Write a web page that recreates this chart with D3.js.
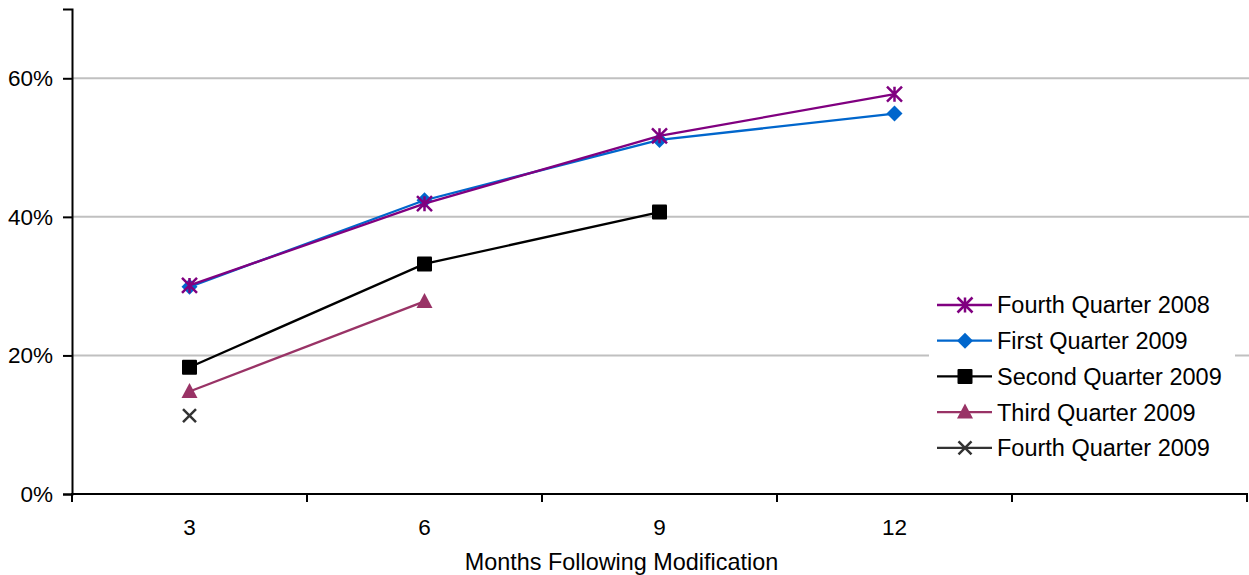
<!DOCTYPE html>
<html>
<head>
<meta charset="utf-8">
<script src="https://cdn.jsdelivr.net/npm/d3@7"></script>
<style>
  html, body { margin: 0; padding: 0; background: #fff; }
  svg { display: block; font-family: "Liberation Sans", Arial, sans-serif; }
</style>
</head>
<body>
<svg id="chart" width="1249" height="575"></svg>
<script>
// Months following modification (the fifth slot is an unlabeled spacer)
const months = ["3", "6", "9", "12", ""];
const yTicks = [0, 0.2, 0.4, 0.6];

const seriesNames = [
  "Fourth Quarter 2008",
  "First Quarter 2009",
  "Second Quarter 2009",
  "Third Quarter 2009",
  "Fourth Quarter 2009"
];
const q4_2008 = [0.301, 0.419, 0.517, 0.577];
const q1_2009 = [0.299, 0.424, 0.511, 0.549];
const q2_2009 = [0.183, 0.332, 0.407];
const q3_2009 = [0.148, 0.278];
const q4_2009 = [0.113];
const seriesValues = [q4_2008, q1_2009, q2_2009, q3_2009, q4_2009];
const seriesColors = ["#800080", "#0066CC", "#000000", "#993366", "#333333"];
const seriesMarkers = ["asterisk", "diamond", "square", "triangle", "cross"];

const svg = d3.select("#chart");
const plotLeft = 72, plotRight = 1247, plotTop = 9, plotBottom = 494;

const x = d3.scaleBand().domain(months).range([plotLeft, plotRight]);
const y = d3.scaleLinear().domain([0, 0.7]).range([plotBottom, plotTop]);

// horizontal gridlines
svg.append("g")
  .selectAll("line")
  .data(yTicks.filter(d => d > 0))
  .join("line")
  .attr("x1", plotLeft).attr("x2", 1249)
  .attr("y1", d => y(d)).attr("y2", d => y(d))
  .attr("stroke", "#c0c0c0").attr("stroke-width", 2);

// y axis
const yAxis = svg.append("g")
  .attr("transform", `translate(${plotLeft},0)`)
  .call(d3.axisLeft(y).tickValues(yTicks).tickFormat(d3.format(".0%")).tickSize(9).tickPadding(10));
yAxis.select(".domain").attr("stroke", "#000").attr("stroke-width", 2);
yAxis.selectAll(".tick line").attr("stroke", "#000").attr("stroke-width", 2);
yAxis.selectAll("text").attr("font-size", 22.5).attr("fill", "#000")
  .attr("font-family", "Liberation Sans, Arial, sans-serif");

// x axis: ticks between categories, labels centered in each band
const xAxisG = svg.append("g").attr("transform", `translate(0,${plotBottom})`);
xAxisG.append("line")
  .attr("x1", plotLeft - 1).attr("x2", plotRight + 1)
  .attr("stroke", "#000").attr("stroke-width", 2);
const boundaries = months.map(m => x(m)).concat([plotRight]);
xAxisG.selectAll("line.tick")
  .data(boundaries)
  .join("line")
  .attr("class", "tick")
  .attr("x1", d => d).attr("x2", d => d)
  .attr("y1", 0).attr("y2", 8)
  .attr("stroke", "#000").attr("stroke-width", 2);
xAxisG.selectAll("text")
  .data(months.filter(m => m !== ""))
  .join("text")
  .attr("x", d => x(d) + x.bandwidth() / 2)
  .attr("y", 41)
  .attr("text-anchor", "middle")
  .attr("font-size", 22.5)
  .text(d => d);

svg.append("text")
  .attr("x", 621.5)
  .attr("y", 570)
  .attr("text-anchor", "middle")
  .attr("font-size", 23.4)
  .text("Months Following Modification");

const cx = i => x(months[i]) + x.bandwidth() / 2;

function drawMarker(g, type, color) {
  const s = 7.5;
  if (type === "asterisk") {
    const p = `M0,${-s}V${s}M${-s},${-s}L${s},${s}M${s},${-s}L${-s},${s}`;
    g.append("path").attr("d", p).attr("stroke", color).attr("stroke-width", 2.5).attr("fill", "none");
  } else if (type === "diamond") {
    g.append("path").attr("d", `M0,-8L8,0L0,8L-8,0Z`).attr("fill", color);
  } else if (type === "square") {
    g.append("rect").attr("x", -7.5).attr("y", -7.5).attr("width", 15).attr("height", 15)
      .attr("rx", 1).attr("fill", color);
  } else if (type === "triangle") {
    g.append("path").attr("d", `M0,-8.5L8,6.5L-8,6.5Z`).attr("fill", color);
  } else if (type === "cross") {
    g.append("path").attr("d", `M-6.5,-6.5L6.5,6.5M6.5,-6.5L-6.5,6.5`).attr("stroke", color).attr("stroke-width", 2.5).attr("fill", "none");
  }
}

const line = d3.line().x((d, i) => cx(i)).y(d => y(d));

// series, drawn last-to-first so the earliest cohorts sit on top
[4, 3, 2, 1, 0].forEach(k => {
  const vals = seriesValues[k];
  const g = svg.append("g");
  if (vals.length > 1) {
    g.append("path").datum(vals).attr("d", line)
      .attr("fill", "none").attr("stroke", seriesColors[k]).attr("stroke-width", 2.3);
  }
  vals.forEach((v, i) => {
    const mg = g.append("g").attr("transform", `translate(${cx(i)},${y(v)})`);
    drawMarker(mg, seriesMarkers[k], seriesColors[k]);
  });
});

// legend
const legend = svg.append("g");
legend.append("rect").attr("x", 929).attr("y", 284).attr("width", 306).attr("height", 186).attr("fill", "#fff");
seriesNames.forEach((name, k) => {
  const ly = 305 + k * 35.7;
  const g = legend.append("g");
  g.append("line").attr("x1", 937).attr("x2", 992).attr("y1", ly).attr("y2", ly)
    .attr("stroke", seriesColors[k]).attr("stroke-width", 2.3);
  const mg = g.append("g").attr("transform", `translate(965,${ly})`);
  drawMarker(mg, seriesMarkers[k], seriesColors[k]);
  g.append("text").attr("x", 997).attr("y", ly + 8.4).attr("font-size", 23.5).text(name);
});
</script>
</body>
</html>
